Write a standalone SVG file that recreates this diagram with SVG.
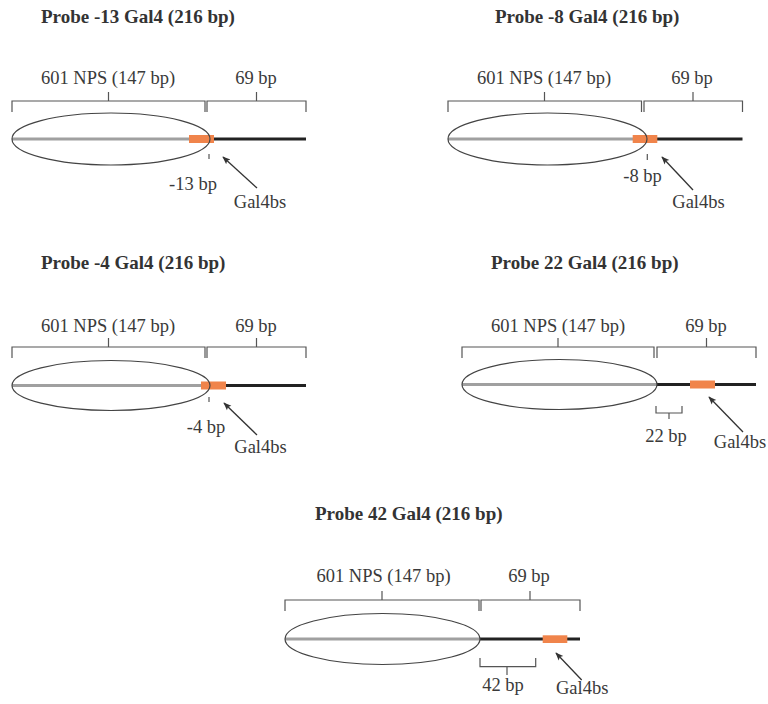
<svg xmlns="http://www.w3.org/2000/svg" width="768" height="704" viewBox="0 0 768 704">
<defs>
<style>
.title{font-family:"Liberation Serif",serif;font-weight:bold;font-size:19px;fill:#333}
.lbl{font-family:"Liberation Serif",serif;font-size:18.5px;fill:#3a3a3a}
.br{fill:none;stroke:#555;stroke-width:1.2}
.ell{fill:none;stroke:#444;stroke-width:1.2}
.gray{stroke:#a0a0a0;stroke-width:3}
.dna{stroke:#222;stroke-width:3}
.site{fill:#f0844b}
.arr{stroke:#333;stroke-width:1.3;fill:none}
</style>
<marker id="ah" viewBox="0 0 10 10" refX="9" refY="5" markerWidth="8" markerHeight="8" markerUnits="userSpaceOnUse" orient="auto">
<path d="M0,1 L10,5 L0,9 L2,5 Z" fill="#333"/>
</marker>
</defs>
<rect width="768" height="704" fill="#fff"/>

<g id="probe-13">
<text class="title" x="41" y="23">Probe -13 Gal4 (216 bp)</text>
<g transform="translate(12,101)">
<text class="lbl" x="96" y="-17" text-anchor="middle">601 NPS (147 bp)</text>
<text class="lbl" x="244" y="-17" text-anchor="middle">69 bp</text>
<path class="br" d="M0,11 V0 H193 V11 M96.5,0 V-9 M195,11 V0 H294 V11 M244.5,0 V-9"/>
<line class="gray" x1="0" y1="38" x2="180" y2="38"/>
<line class="dna" x1="200" y1="38" x2="294" y2="38"/>
<rect class="site" x="177" y="34" width="25" height="8"/>
<ellipse class="ell" cx="99" cy="38" rx="99" ry="26"/>
<line class="br" x1="197" y1="53" x2="197" y2="58"/>
<text class="lbl" x="181" y="89" text-anchor="middle">-13 bp</text>
<text class="lbl" x="248" y="107" text-anchor="middle">Gal4bs</text>
</g>
</g>

<g id="probe-8">
<text class="title" x="495" y="23">Probe -8 Gal4 (216 bp)</text>
<g transform="translate(448,101)">
<text class="lbl" x="96" y="-17" text-anchor="middle">601 NPS (147 bp)</text>
<text class="lbl" x="244" y="-17" text-anchor="middle">69 bp</text>
<path class="br" d="M0,11 V0 H193.5 V11 M96.5,0 V-9 M196,11 V0 H294.5 V11 M245,0 V-9"/>
<line class="gray" x1="0" y1="38" x2="188" y2="38"/>
<line class="dna" x1="207" y1="38" x2="294.5" y2="38"/>
<rect class="site" x="184.7" y="34" width="24.6" height="8"/>
<ellipse class="ell" cx="99.5" cy="38" rx="99.5" ry="26"/>
<line class="br" x1="199.3" y1="53" x2="199.3" y2="59"/>
<text class="lbl" x="194.5" y="81" text-anchor="middle">-8 bp</text>
<text class="lbl" x="250.5" y="107" text-anchor="middle">Gal4bs</text>
</g>
</g>

<g id="probe-4">
<text class="title" x="41" y="269">Probe -4 Gal4 (216 bp)</text>
<g transform="translate(12,347)">
<text class="lbl" x="96" y="-15" text-anchor="middle">601 NPS (147 bp)</text>
<text class="lbl" x="244" y="-15" text-anchor="middle">69 bp</text>
<path class="br" d="M0,11 V0 H193 V11 M96.5,0 V-9 M195,11 V0 H294 V11 M244.5,0 V-9"/>
<line class="gray" x1="0" y1="38.5" x2="192" y2="38.5"/>
<line class="dna" x1="212" y1="38.5" x2="294" y2="38.5"/>
<rect class="site" x="189" y="34.5" width="25" height="8"/>
<ellipse class="ell" cx="99" cy="38.5" rx="99" ry="25"/>
<line class="br" x1="197" y1="50" x2="197" y2="55"/>
<text class="lbl" x="194" y="86" text-anchor="middle">-4 bp</text>
<text class="lbl" x="248.5" y="106" text-anchor="middle">Gal4bs</text>
</g>
</g>

<g id="probe22">
<text class="title" x="491" y="269">Probe 22 Gal4 (216 bp)</text>
<g transform="translate(462,347)">
<text class="lbl" x="96" y="-15" text-anchor="middle">601 NPS (147 bp)</text>
<text class="lbl" x="244" y="-15" text-anchor="middle">69 bp</text>
<path class="br" d="M0,11 V0 H192 V11 M96,0 V-9 M195,11 V0 H294 V11 M244.5,0 V-9"/>
<line class="gray" x1="0" y1="37.5" x2="195" y2="37.5"/>
<line class="dna" x1="195" y1="37.5" x2="294" y2="37.5"/>
<rect class="site" x="228" y="33.5" width="25" height="8"/>
<ellipse class="ell" cx="97.5" cy="37.5" rx="97.5" ry="25"/>
<path class="br" d="M194,59 V66 H220 V59 M207,66 V72"/>
<text class="lbl" x="204" y="95" text-anchor="middle">22 bp</text>
<text class="lbl" x="278" y="101" text-anchor="middle">Gal4bs</text>
</g>
</g>

<g id="probe42">
<text class="title" x="315" y="520">Probe 42 Gal4 (216 bp)</text>
<g transform="translate(285,600)">
<text class="lbl" x="98.5" y="-18" text-anchor="middle">601 NPS (147 bp)</text>
<text class="lbl" x="244" y="-18" text-anchor="middle">69 bp</text>
<path class="br" d="M0,11 V0 H194 V11 M97,0 V-9 M196,11 V0 H295 V11 M245,0 V-9"/>
<line class="gray" x1="0" y1="39" x2="195" y2="39"/>
<line class="dna" x1="195" y1="39" x2="295" y2="39"/>
<rect class="site" x="257.7" y="35.3" width="24.6" height="7.7"/>
<ellipse class="ell" cx="97.5" cy="39" rx="97.5" ry="25.5"/>
<path class="br" d="M195,58 V66.7 H250.7 V58 M222,66.7 V75"/>
<text class="lbl" x="218" y="91" text-anchor="middle">42 bp</text>
<text class="lbl" x="271" y="94">Gal4bs</text>
</g>
</g>

<g id="connectors">
<line class="arr" x1="257" y1="188" x2="223" y2="157" marker-end="url(#ah)"/>
<line class="arr" x1="693" y1="190" x2="662" y2="157" marker-end="url(#ah)"/>
<line class="arr" x1="257" y1="435" x2="224" y2="403" marker-end="url(#ah)"/>
<line class="arr" x1="743" y1="432" x2="709" y2="397" marker-end="url(#ah)"/>
<line class="arr" x1="581.7" y1="680" x2="556" y2="653" marker-end="url(#ah)"/>
</g>
</svg>
